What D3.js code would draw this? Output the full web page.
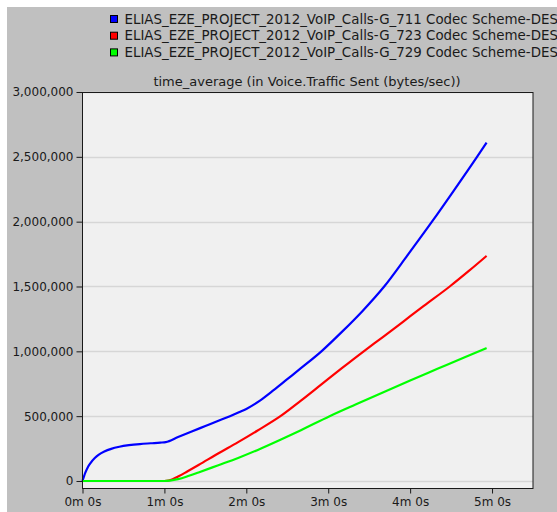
<!DOCTYPE html>
<html>
<head>
<meta charset="utf-8">
<script src="https://cdn.jsdelivr.net/npm/d3@7"></script>
<style>
  body { margin: 0; background: #fff; }
  text { font-family: "DejaVu Sans", Verdana, sans-serif; }
</style>
</head>
<body>
<svg id="chart" width="557" height="512"></svg>
<script>
// series labels and colours
const seriesNames = [
  'ELIAS_EZE_PROJECT_2012_VoIP_Calls-G_711 Codec Scheme-DES',
  'ELIAS_EZE_PROJECT_2012_VoIP_Calls-G_723 Codec Scheme-DES',
  'ELIAS_EZE_PROJECT_2012_VoIP_Calls-G_729 Codec Scheme-DES'
]
const seriesColors = ['#0000ff', '#ff0000', '#00ff00']

// [seconds, bytes/sec]
const g711 = [
  [0, 0], [2, 62000], [4, 108000], [6, 140000], [9, 177000], [12, 203000],
  [16, 227000], [21, 248000], [27, 264000], [34, 276000], [42, 285000],
  [50, 291000], [57, 296000], [61, 300000], [70, 339000], [80, 382000],
  [90, 424000], [100, 466000], [108, 500000], [115, 532000], [120, 556000],
  [130, 620000], [140, 700000], [150, 785000], [160, 870000], [175, 1000000],
  [190, 1150000], [205, 1310000], [221, 1500000], [238, 1740000],
  [256, 2000000], [272, 2240000], [289, 2500000], [296, 2610000]
]
const g723 = [
  [0, 0], [60, 0], [63, 4000], [66, 14000], [70, 34000], [77, 75000],
  [85, 123000], [99, 210000], [114, 300000], [128, 388000], [145, 500000],
  [160, 620000], [175, 745000], [190, 870000], [206, 1000000],
  [220, 1110000], [235, 1230000], [250, 1350000], [269, 1500000],
  [283, 1620000], [296, 1736000]
]
const g729 = [
  [0, 0], [60, 0], [64, 3000], [70, 14000], [78, 40000], [85, 66000],
  [99, 120000], [114, 178000], [128, 238000], [145, 318000], [160, 392000],
  [181, 500000], [200, 590000], [220, 683000], [240, 775000],
  [260, 865000], [280, 955000], [296, 1025000]
]
const allSeries = [g711, g723, g729]

const yTicks = [0, 500000, 1000000, 1500000, 2000000, 2500000, 3000000]
const xTicks = [0, 60, 120, 180, 240, 300]
const xTickLabels = ['0m 0s', '1m 0s', '2m 0s', '3m 0s', '4m 0s', '5m 0s']
const title = 'time_average (in Voice.Traffic Sent (bytes/sec))'

window.addEventListener('load', makeChart)
function makeChart() {
  const svg = d3.select('#chart')

  // grey panel
  svg.append('rect')
    .attr('x', 7).attr('y', 7)
    .attr('width', 550).attr('height', 505)
    .attr('fill', '#c0c0c0')

  const left = 82.5, right = 533, top = 92, bottom = 488

  const scX = d3.scaleLinear().domain([0, 330]).range([left, right])
  const scY = d3.scaleLinear().domain([-54000, 3000000]).range([bottom, top])

  // plot background
  svg.append('rect')
    .attr('x', left).attr('y', top)
    .attr('width', right - left).attr('height', bottom - top)
    .attr('fill', '#f0f0f0')

  // horizontal grid
  svg.append('g')
    .selectAll('line')
    .data(yTicks)
    .enter()
    .append('line')
    .attr('x1', left).attr('x2', right)
    .attr('y1', (d) => Math.round(scY(d)) + 0.5)
    .attr('y2', (d) => Math.round(scY(d)) + 0.5)
    .attr('stroke', '#d6d6d6')
    .attr('stroke-width', 1.5)

  // series lines
  const line = d3.line()
    .x((d) => scX(d[0]))
    .y((d) => scY(d[1]))
    .curve(d3.curveMonotoneX)

  svg.append('g')
    .selectAll('path')
    .data(allSeries)
    .enter()
    .append('path')
    .attr('d', line)
    .attr('fill', 'none')
    .attr('stroke', (d, i) => seriesColors[i])
    .attr('stroke-width', 2.2)
    .attr('stroke-linejoin', 'round')

  // frame
  svg.append('rect')
    .attr('x', left).attr('y', top + 0.5)
    .attr('width', right - left).attr('height', bottom - top)
    .attr('fill', 'none')
    .attr('stroke', '#1a1a1a')
    .attr('stroke-width', 1)

  // axes
  const yAxis = d3.axisLeft(scY)
    .tickValues(yTicks)
    .tickFormat(d3.format(','))
    .tickSize(6)
    .tickPadding(3)
  const gy = svg.append('g')
    .attr('transform', `translate(${left},0)`)
    .call(yAxis)
  gy.select('.domain').remove()

  const xAxis = d3.axisBottom(scX)
    .tickValues(xTicks)
    .tickFormat((d, i) => xTickLabels[i])
    .tickSize(5)
    .tickPadding(4)
  const gx = svg.append('g')
    .attr('transform', `translate(0,${bottom + 0.5})`)
    .call(xAxis)
  gx.select('.domain').remove()

  svg.selectAll('.tick line').attr('stroke', '#1a1a1a')
  svg.selectAll('.tick text')
    .attr('fill', '#1a1a1a')
    .style('font-size', '12px')
    .style('font-family', '"DejaVu Sans", Verdana, sans-serif')

  // title
  svg.append('text')
    .attr('x', 307).attr('y', 85.5)
    .attr('text-anchor', 'middle')
    .attr('fill', '#1a1a1a')
    .style('font-size', '13px')
    .text(title)

  // legend
  const lg = svg.append('g')
    .selectAll('g')
    .data(seriesNames)
    .enter()
    .append('g')
    .attr('transform', (d, i) => `translate(0,${16.7 * i})`)
  lg.append('rect')
    .attr('x', 110.5).attr('y', 15.5)
    .attr('width', 7).attr('height', 7)
    .attr('fill', (d, i) => seriesColors[i])
    .attr('stroke', '#000')
  lg.append('text')
    .attr('x', 124.5).attr('y', 23.5)
    .attr('fill', '#1a1a1a')
    .style('font-size', '13.4px')
    .text((d) => d)
}
</script>
</body>
</html>
